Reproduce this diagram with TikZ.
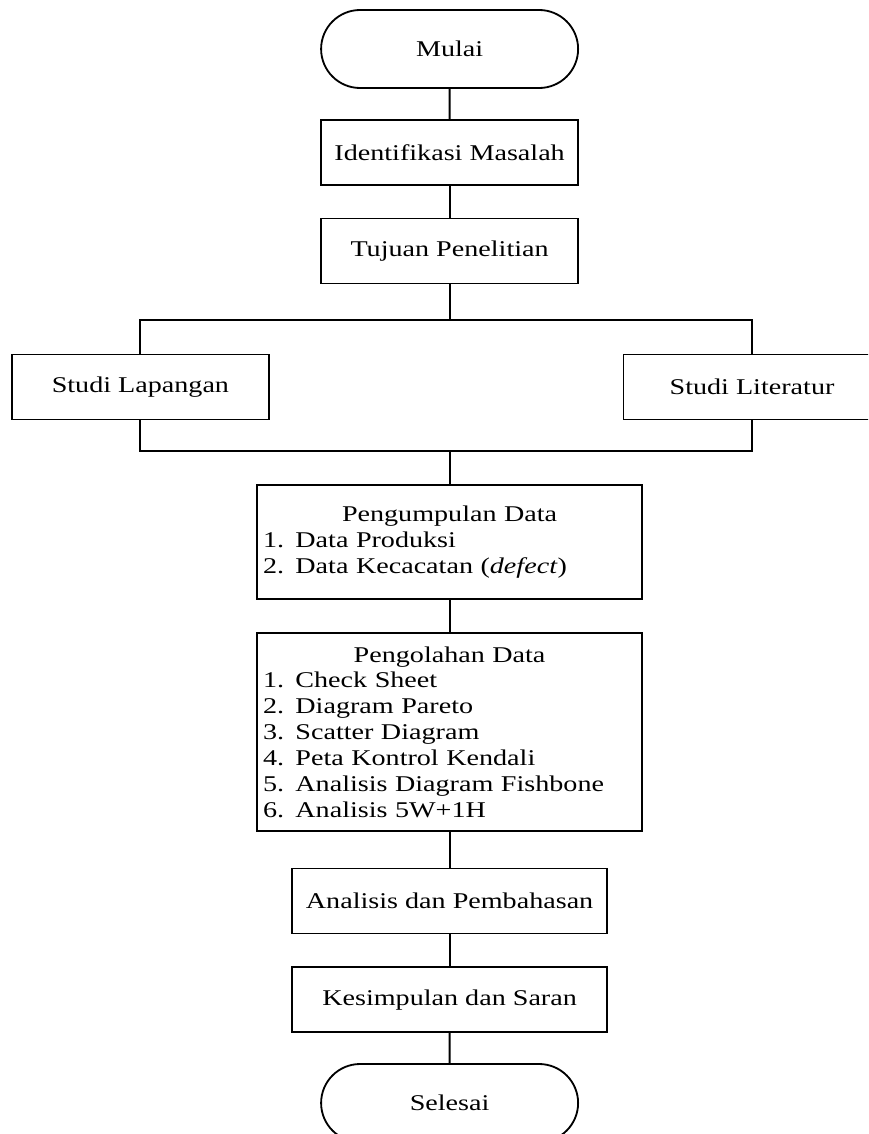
\documentclass[tikz,border=0pt]{standalone}
\usepackage{fontspec}
\setmainfont{Liberation Serif}[FakeStretch=1.25]
\usetikzlibrary{shapes.misc}

\begin{document}
\begin{tikzpicture}[
  box/.style={rectangle, draw, line width=1.3pt, align=center, minimum width=6.425cm, minimum height=1.625cm, inner sep=0pt, font=\fontsize{16}{18.4}\selectfont, fill=white},
  term/.style={box, rounded rectangle, minimum height=1.95cm},
  listbox/.style={box, align=left, inner xsep=0.15cm, text width=9.325cm},
  edge/.style={line width=1.3pt, draw=black}
]
\clip (0,0) rectangle (21.7,-28.35);
\node[term] (mulai) at (11.24,-1.225) {Mulai};
\node[box] (identifikasi) at (11.24,-3.81) {Identifikasi Masalah};
\node[box] (tujuan) at (11.24,-6.275) {Tujuan Penelitian};
\node[box] (lapangan) at (3.51,-9.675) {Studi Lapangan};
\node[box] (literatur) at (18.80,-9.675) {Studi Literatur};
\node[listbox, minimum height=2.85cm] (kumpul) at (11.24,-13.55)
  {\hfill Pengumpulan Data\hfill\null\\1. Data Produksi\\2. Data Kecacatan (\textit{defect})};
\node[listbox, minimum height=4.95cm] (olah) at (11.24,-18.30)
  {\hfill Pengolahan Data\hfill\null\\1. Check Sheet\\2. Diagram Pareto\\3. Scatter Diagram\\4. Peta Kontrol Kendali\\5. Analisis Diagram Fishbone\\6. Analisis 5W+1H};
\node[box, minimum width=7.875cm] (analisis) at (11.24,-22.525) {Analisis dan Pembahasan};
\node[box, minimum width=7.875cm] (kesimpulan) at (11.24,-24.99) {Kesimpulan dan Saran};
\node[term] (selesai) at (11.24,-27.575) {Selesai};
\coordinate (cabang) at (11.24,-8.00);
\coordinate (gabung) at (11.24,-11.275);
\draw[edge] (mulai) -- (identifikasi);
\draw[edge] (identifikasi) -- (tujuan);
\draw[edge] (tujuan) -- (cabang);
\draw[edge] (lapangan.north) |- (cabang);
\draw[edge] (literatur.north) |- (cabang);
\draw[edge] (lapangan.south) |- (gabung);
\draw[edge] (literatur.south) |- (gabung);
\draw[edge] (gabung) -- (kumpul);
\draw[edge] (kumpul) -- (olah);
\draw[edge] (olah) -- (analisis);
\draw[edge] (analisis) -- (kesimpulan);
\draw[edge] (kesimpulan) -- (selesai);
\end{tikzpicture}
\end{document}
